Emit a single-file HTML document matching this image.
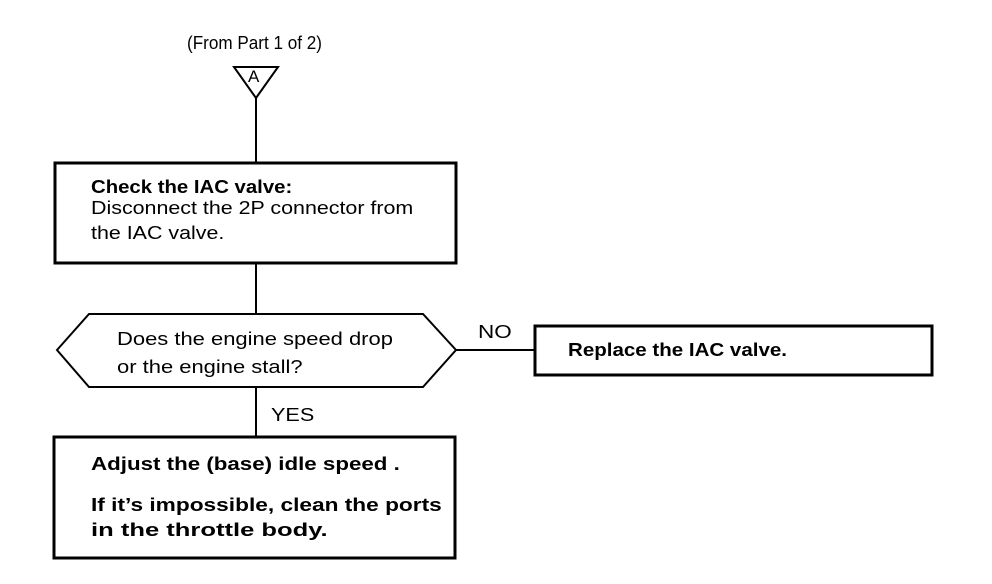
<!DOCTYPE html>
<html><head><meta charset="utf-8"><style>
html,body{margin:0;padding:0;background:#fff;}
body{width:992px;height:584px;position:relative;overflow:hidden;font-family:"Liberation Sans",sans-serif;color:#000;}
.t{position:absolute;white-space:nowrap;font-size:18px;transform-origin:0 0;}
.b{font-weight:bold;}
</style></head><body>
<svg width="992" height="584" style="position:absolute;left:0;top:0" stroke="#000" fill="none">
<polygon points="234,67 278,67 256,98" stroke-width="2"/>
<line x1="256" y1="98" x2="256" y2="163" stroke-width="2"/>
<rect x="55" y="163" width="401" height="100" stroke-width="3"/>
<line x1="256" y1="263" x2="256" y2="314" stroke-width="2"/>
<polygon points="57,350 89,314 423,314 456,350 423,387 89,387" stroke-width="2"/>
<line x1="456" y1="350" x2="535" y2="350" stroke-width="2"/>
<rect x="535" y="326" width="397" height="49" stroke-width="3"/>
<line x1="256" y1="387" x2="256" y2="437" stroke-width="2"/>
<rect x="54" y="437" width="401" height="121" stroke-width="3"/>
</svg>
<div class="t" style="left:187px;top:33px;font-size:18px;transform:scaleX(0.95)">(From Part 1 of 2)</div>
<div class="t" style="left:248px;top:67px;font-size:17px">A</div>
<div class="t b" style="left:91px;top:177px;transform:scaleX(1.13)">Check the IAC valve:</div>
<div class="t" style="left:91px;top:198px;transform:scaleX(1.19)">Disconnect the 2P connector from</div>
<div class="t" style="left:91px;top:223px;transform:scaleX(1.19)">the IAC valve.</div>
<div class="t" style="left:117px;top:329px;transform:scaleX(1.22)">Does the engine speed drop</div>
<div class="t" style="left:117px;top:357px;transform:scaleX(1.22)">or the engine stall?</div>
<div class="t" style="left:478px;top:322px;transform:scaleX(1.25)">NO</div>
<div class="t b" style="left:568px;top:340px;transform:scaleX(1.14)">Replace the IAC valve.</div>
<div class="t" style="left:271px;top:405px;transform:scaleX(1.2)">YES</div>
<div class="t b" style="left:91px;top:454px;transform:scaleX(1.24)">Adjust the (base) idle speed .</div>
<div class="t b" style="left:91px;top:495px;transform:scaleX(1.26)">If it’s impossible, clean the ports</div>
<div class="t b" style="left:91px;top:520px;transform:scaleX(1.42)">in the throttle body.</div>
</body></html>
